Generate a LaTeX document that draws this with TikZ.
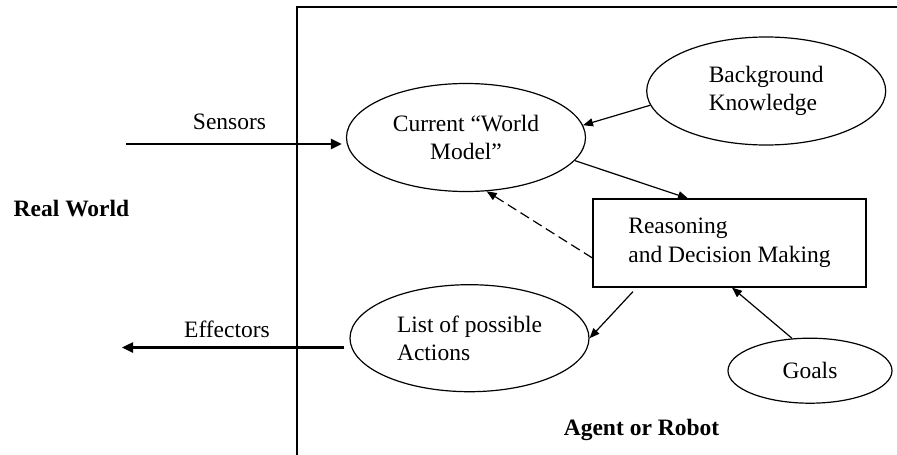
\documentclass[tikz,border=0pt]{standalone}
\usepackage{fontspec}
\setmainfont{Liberation Serif}
\usetikzlibrary{arrows.meta,positioning,shapes.geometric}
\newcommand{\diagfont}{\fontsize{23.5}{28.5}\selectfont}
\tikzset{
  oval/.style={draw, ellipse, line width=1.2pt, inner sep=0pt,
    minimum width=239pt, minimum height=108pt},
  decbox/.style={draw, rectangle, line width=1.2pt, align=left,
    minimum width=273pt, minimum height=88pt},
  tag/.style={anchor=base},
  arrow/.style={-{Triangle[length=10pt,width=8pt]}, line width=1.2pt},
  iolink/.style={-{Triangle[length=11pt,width=10pt]}, line width=2.4pt}
}
\begin{document}
\begin{tikzpicture}[x=1pt, y=-1pt, font=\diagfont, node distance=60pt]
  \useasboundingbox (0,0) rectangle (897,455);
  % agent frame
  \draw[line width=1.2pt] (297,455) -- (297,7) -- (897,7);

  \node[oval, align=center] (world) at (466,137.5) {Current “World\\Model”};
  \node[oval, align=left, right=60pt of world, yshift=46.5pt] (bgk) {Background\\Knowledge};
  \node[decbox] (reason) at (729.5,243) {Reasoning\\and Decision Making};
  \node[oval, align=left, minimum height=107pt, below=92pt of world, xshift=3.5pt] (actions) {List of possible\\Actions};
  \node[oval, minimum width=164pt, minimum height=65pt, below=50pt of reason, xshift=80.5pt] (goals) {Goals};

  \node[tag] (sens) at (229.5,129) {Sensors};
  \node[tag] (eff) at (227,337) {Effectors};
  \node[tag, font=\diagfont\bfseries] (real) at (71.5,216) {Real World};
  \node[tag, font=\diagfont\bfseries] (agent) at (641.5,435) {Agent or Robot};

  \coordinate (sensin) at (126,144);
  \coordinate (effout) at (122,347.5);

  \draw[iolink, shorten >=4pt] (sensin) -- (world.west |- sensin);
  \draw[iolink, shorten <=5pt] (actions.west |- effout) -- (effout);

  \draw[arrow] (bgk.187) -- (world.6);
  \draw[arrow] (world.-12) -- ([xshift=-41.5pt]reason.north);
  \draw[arrow, dash pattern=on 10pt off 5pt] ([yshift=-15pt]reason.west) -- (world.-69);
  \draw[arrow] ([xshift=-96.5pt,yshift=-4pt]reason.south) -- (actions.east);
  \draw[arrow] (goals.119) -- ([xshift=2.5pt]reason.south);
\end{tikzpicture}
\end{document}
